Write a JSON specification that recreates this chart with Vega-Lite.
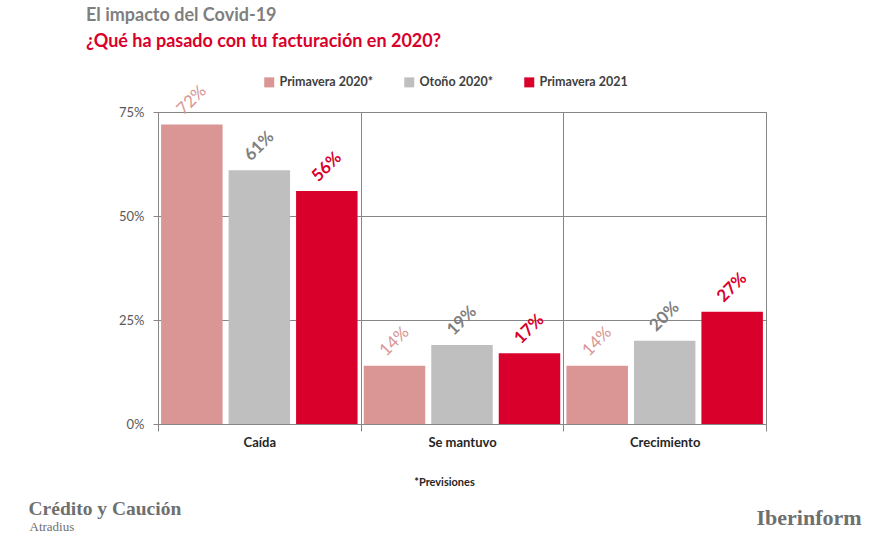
{
  "$schema": "https://vega.github.io/schema/vega-lite/v6.json",
  "width": 608,
  "height": 312,
  "autosize": {"type": "none"},
  "padding": {"left": 158, "top": 112, "right": 118, "bottom": 114},
  "background": "white",
  "config": {"font": "Lato", "view": {"stroke": "#868686"}},
  "title": {
    "text": "El impacto del Covid-19",
    "subtitle": "¿Qué ha pasado con tu facturación en 2020?",
    "anchor": "start",
    "frame": "group",
    "dx": -72,
    "offset": 25,
    "font": "Lato",
    "fontSize": 18,
    "fontWeight": "bold",
    "color": "#7f7f7f",
    "subtitleFont": "Lato",
    "subtitleFontSize": 18,
    "subtitleFontWeight": "bold",
    "subtitleColor": "#d9002b",
    "subtitlePadding": 8
  },
  "data": {
    "values": [
      {"Respuesta": "Caída", "Periodo": "Primavera 2020*", "Valor": 0.72},
      {"Respuesta": "Caída", "Periodo": "Otoño 2020*", "Valor": 0.61},
      {"Respuesta": "Caída", "Periodo": "Primavera 2021", "Valor": 0.56},
      {"Respuesta": "Se mantuvo", "Periodo": "Primavera 2020*", "Valor": 0.14},
      {"Respuesta": "Se mantuvo", "Periodo": "Otoño 2020*", "Valor": 0.19},
      {"Respuesta": "Se mantuvo", "Periodo": "Primavera 2021", "Valor": 0.17},
      {"Respuesta": "Crecimiento", "Periodo": "Primavera 2020*", "Valor": 0.14},
      {"Respuesta": "Crecimiento", "Periodo": "Otoño 2020*", "Valor": 0.20},
      {"Respuesta": "Crecimiento", "Periodo": "Primavera 2021", "Valor": 0.27}
    ]
  },
  "resolve": {"axis": {"x": "independent", "y": "independent"}},
  "layer": [
    {
      "mark": {"type": "bar"},
      "encoding": {
        "x": {
          "field": "Respuesta",
          "type": "nominal",
          "sort": ["Caída", "Se mantuvo", "Crecimiento"],
          "scale": {"paddingInner": 0, "paddingOuter": 0},
          "axis": {
            "orient": "bottom",
            "tickBand": "extent",
            "grid": true,
            "gridColor": "#868686",
            "domainColor": "#868686",
            "tickColor": "#868686",
            "tickSize": 7,
            "labelPadding": 5,
            "labelAngle": 0,
            "labelFont": "Lato",
            "labelFontSize": 13,
            "labelFontWeight": "bold",
            "labelColor": "#262626",
            "title": "*Previsiones",
            "titleX": 286,
            "titleY": 61,
            "titleBaseline": "alphabetic",
            "titleFont": "Lato",
            "titleFontSize": 11,
            "titleFontWeight": "bold",
            "titleColor": "#262626"
          }
        },
        "xOffset": {
          "field": "Periodo",
          "type": "nominal",
          "sort": ["Primavera 2020*", "Otoño 2020*", "Primavera 2021"],
          "scale": {"paddingInner": 0.089, "paddingOuter": 0.046}
        },
        "y": {
          "field": "Valor",
          "type": "quantitative",
          "scale": {"domain": [0, 0.75], "nice": false},
          "axis": {
            "orient": "left",
            "values": [0, 0.25, 0.5, 0.75],
            "format": ".0%",
            "grid": true,
            "gridColor": "#868686",
            "domainColor": "#868686",
            "tickColor": "#868686",
            "tickSize": 5,
            "labelPadding": 9,
            "labelFont": "Lato",
            "labelFontSize": 13,
            "labelColor": "#595959",
            "title": "Crédito y Caución",
            "titleAngle": 0,
            "titleX": -130,
            "titleY": 402,
            "titleAlign": "left",
            "titleBaseline": "alphabetic",
            "titleFont": "Liberation Serif",
            "titleFontSize": 19.5,
            "titleFontWeight": "bold",
            "titleColor": "#6f6f6f"
          }
        },
        "color": {
          "field": "Periodo",
          "type": "nominal",
          "sort": ["Primavera 2020*", "Otoño 2020*", "Primavera 2021"],
          "scale": {
            "domain": ["Primavera 2020*", "Otoño 2020*", "Primavera 2021"],
            "range": ["#d99694", "#bfbfbf", "#d9002b"]
          },
          "legend": {
            "orient": "none",
            "legendX": 105,
            "legendY": -36,
            "direction": "horizontal",
            "title": null,
            "symbolType": "square",
            "symbolSize": 100,
            "symbolStrokeWidth": 0,
            "labelFont": "Lato",
            "labelFontSize": 12.5,
            "labelFontWeight": "bold",
            "labelColor": "#404040",
            "labelOffset": 4,
            "columnPadding": 30
          }
        }
      }
    },
    {
      "encoding": {
        "x": {
          "field": "Respuesta",
          "type": "nominal",
          "sort": ["Caída", "Se mantuvo", "Crecimiento"],
          "axis": {
            "orient": "top",
            "labels": false,
            "ticks": false,
            "domain": false,
            "grid": false,
            "title": "Atradius",
            "titleX": -129,
            "titleY": 418,
            "titleAngle": 0,
            "titleAlign": "left",
            "titleBaseline": "alphabetic",
            "titleFont": "Liberation Serif",
            "titleFontSize": 13,
            "titleFontWeight": "normal",
            "titleColor": "#6f6f6f"
          }
        },
        "xOffset": {
          "field": "Periodo",
          "type": "nominal",
          "sort": ["Primavera 2020*", "Otoño 2020*", "Primavera 2021"]
        },
        "y": {
          "field": "Valor",
          "type": "quantitative",
          "axis": {
            "orient": "right",
            "labels": false,
            "ticks": false,
            "domain": false,
            "grid": false,
            "title": "Iberinform",
            "titleX": -10,
            "titleY": 412,
            "titleAngle": 0,
            "titleAlign": "left",
            "titleBaseline": "alphabetic",
            "titleFont": "Liberation Serif",
            "titleFontSize": 22,
            "titleFontWeight": "bold",
            "titleColor": "#6f6f6f"
          }
        },
        "text": {"field": "Valor", "type": "quantitative", "format": ".0%"}
      },
      "layer": [
        {
          "transform": [{"filter": "datum.Periodo === 'Primavera 2020*'"}],
          "mark": {"type": "text", "angle": -45, "align": "center", "baseline": "middle", "dx": 17, "dy": -17, "fontSize": 17, "fontWeight": "normal", "color": "#d99694"}
        },
        {
          "transform": [{"filter": "datum.Periodo === 'Otoño 2020*'"}],
          "mark": {"type": "text", "angle": -45, "align": "center", "baseline": "middle", "dx": 17, "dy": -17, "fontSize": 17, "fontWeight": "bold", "color": "#7f7f7f"}
        },
        {
          "transform": [{"filter": "datum.Periodo === 'Primavera 2021'"}],
          "mark": {"type": "text", "angle": -45, "align": "center", "baseline": "middle", "dx": 17, "dy": -17, "fontSize": 17, "fontWeight": "bold", "color": "#d9002b"}
        }
      ]
    }
  ]
}
